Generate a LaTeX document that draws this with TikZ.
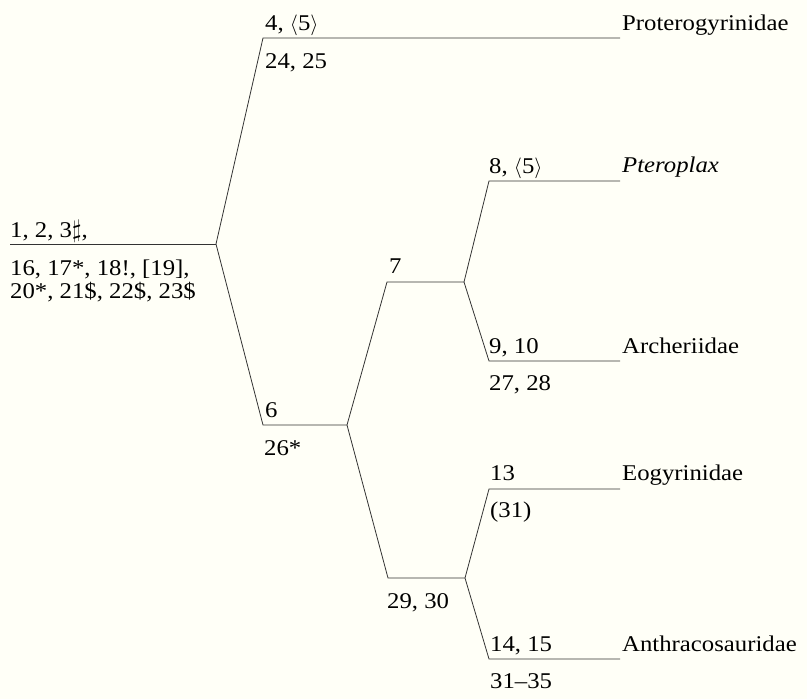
\documentclass[tikz,border=0pt]{standalone}
\usepackage{fontspec}
\setmainfont{Liberation Serif}[FakeStretch=1.1]
\usetikzlibrary{positioning}
\definecolor{paper}{RGB}{255,255,247}
\tikzset{
  branch/.style={line width=0.8pt,black!80},
  lbl/.style={anchor=base west,inner sep=0pt,font=\fontsize{22.5}{26}\selectfont},
  taxon/.style={lbl},
}
\newcommand{\sharpsign}{\scalebox{1.2}{$\sharp$}}
\begin{document}
\begin{tikzpicture}[x=1pt,y=-1pt]
    \fill[paper] (0,0) rectangle (807,699);
    \useasboundingbox (0,0) rectangle (807,699);
    % ---------------- branch points ----------------
    \coordinate (r0) at (10,244);
    \coordinate (root) at (216,244);
    \coordinate (pro0) at (263,38);
    \coordinate (pro1) at (620,38);
    \coordinate (s6) at (263,425);
    \coordinate (n6) at (347,425);
    \coordinate (s7) at (387,282);
    \coordinate (n7) at (464,282);
    \coordinate (pt0) at (489,181);
    \coordinate (pt1) at (620,181);
    \coordinate (ar0) at (489,361);
    \coordinate (ar1) at (620,361);
    \coordinate (s29) at (388,578);
    \coordinate (n29) at (465,578);
    \coordinate (eo0) at (489,489);
    \coordinate (eo1) at (620,489);
    \coordinate (an0) at (489,659);
    \coordinate (an1) at (620,659);
    % ---------------- tree ----------------
    \draw[branch] (r0) -- (root);
    \draw[branch] (root) -- (pro0) -- (pro1);
    \draw[branch] (root) -- (s6) -- (n6);
    \draw[branch] (n6) -- (s7) -- (n7);
    \draw[branch] (n7) -- (pt0) -- (pt1);
    \draw[branch] (n7) -- (ar0) -- (ar1);
    \draw[branch] (n6) -- (s29) -- (n29);
    \draw[branch] (n29) -- (eo0) -- (eo1);
    \draw[branch] (n29) -- (an0) -- (an1);
    % ---------------- characters ----------------
    \node[lbl] (c1) at (10,237) {1, 2, 3\sharpsign,};
    \node[lbl] (c16) at (10,275) {16, 17*, 18!, [19],};
    \node[lbl] (c20) at (10,298) {20*, 21\$, 22\$, 23\$};
    \node[lbl] (c4) at (265,30) {4, $\langle$5$\rangle$};
    \node[lbl] (c24) at (265,68) {24, 25};
    \node[lbl] (c6) at (265,417) {6};
    \node[lbl] (c26) at (264,455) {26*};
    \node[lbl] (c7) at (389,273) {7};
    \node[lbl] (c8) at (489,173) {8, $\langle$5$\rangle$};
    \node[lbl] (c9) at (489,353) {9, 10};
    \node[lbl] (c27) at (489,390) {27, 28};
    \node[lbl] (c13) at (490,480) {13};
    \node[lbl] (c31) at (490,517) {(31)};
    \node[lbl] (c29) at (387,608) {29, 30};
    \node[lbl] (c14) at (490,651) {14, 15};
    \node[lbl] (c31b) at (490,688) {31--35};
    % ---------------- taxa ----------------
    \node[taxon] (tpro) at (622,30) {Proterogyrinidae};
    \node[taxon] (tpte) at (622,172) {\textit{Pteroplax}};
    \node[taxon] (tarc) at (622,353) {Archeriidae};
    \node[taxon] (teog) at (622,480) {Eogyrinidae};
    \node[taxon] (tant) at (622,651) {Anthracosauridae};
\end{tikzpicture}
\end{document}
